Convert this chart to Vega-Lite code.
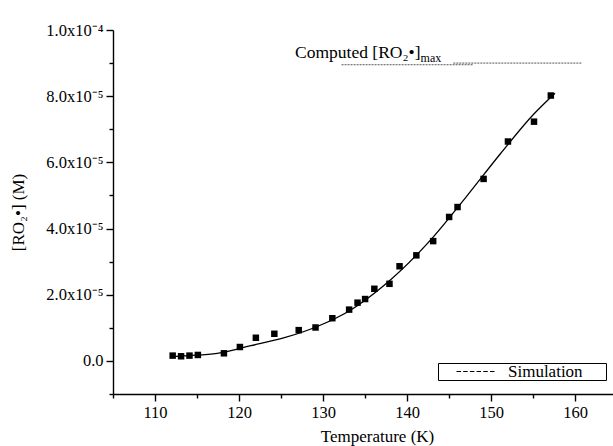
{
  "$schema": "https://vega.github.io/schema/vega-lite/v6.json",
  "width": 500,
  "height": 364,
  "autosize": {"type": "none"},
  "padding": {"left": 113, "top": 30, "right": 0, "bottom": 52},
  "background": "white",
  "config": {
    "view": {"stroke": null},
    "font": "Liberation Serif",
    "axis": {
      "grid": false,
      "domainColor": "black",
      "domainWidth": 1.4,
      "tickColor": "black",
      "tickWidth": 1.4,
      "labelColor": "black",
      "labelFont": "Liberation Serif",
      "labelFontSize": 16.5,
      "labelOverlap": false,
      "titleFont": "Liberation Serif",
      "titleFontSize": 17,
      "titleFontWeight": "normal",
      "titleColor": "black"
    },
    "legend": {
      "labelFont": "Liberation Serif",
      "labelFontSize": 17,
      "labelColor": "black"
    }
  },
  "datasets": {
    "points": [
      {"T": 112.1, "c": 1.6e-6},
      {"T": 113.1, "c": 1.4e-6},
      {"T": 114.1, "c": 1.6e-6},
      {"T": 115.1, "c": 1.8e-6},
      {"T": 118.2, "c": 2.3e-6},
      {"T": 120.1, "c": 4.2e-6},
      {"T": 122.0, "c": 7.0e-6},
      {"T": 124.2, "c": 8.2e-6},
      {"T": 127.1, "c": 9.3e-6},
      {"T": 129.1, "c": 1.01e-5},
      {"T": 131.1, "c": 1.29e-5},
      {"T": 133.1, "c": 1.55e-5},
      {"T": 134.1, "c": 1.76e-5},
      {"T": 135.0, "c": 1.87e-5},
      {"T": 136.1, "c": 2.18e-5},
      {"T": 137.9, "c": 2.33e-5},
      {"T": 139.1, "c": 2.86e-5},
      {"T": 141.1, "c": 3.19e-5},
      {"T": 143.1, "c": 3.62e-5},
      {"T": 145.0, "c": 4.35e-5},
      {"T": 146.0, "c": 4.65e-5},
      {"T": 149.1, "c": 5.50e-5},
      {"T": 152.0, "c": 6.63e-5},
      {"T": 155.1, "c": 7.23e-5},
      {"T": 157.1, "c": 8.02e-5}
    ],
    "curve": [
      {"T": 112.0, "c": 1.3e-6},
      {"T": 114.0, "c": 1.6e-6},
      {"T": 117.4, "c": 2.3e-6},
      {"T": 121.4, "c": 4.6e-6},
      {"T": 125.4, "c": 7.0e-6},
      {"T": 129.3, "c": 1.04e-5},
      {"T": 133.3, "c": 1.54e-5},
      {"T": 137.2, "c": 2.27e-5},
      {"T": 141.2, "c": 3.22e-5},
      {"T": 143.2, "c": 3.77e-5},
      {"T": 147.1, "c": 4.98e-5},
      {"T": 151.1, "c": 6.26e-5},
      {"T": 155.0, "c": 7.44e-5},
      {"T": 157.6, "c": 8.09e-5}
    ],
    "computed": [
      {"T1": 132.2, "T2": 147.9, "c": 8.95e-5},
      {"T1": 145.5, "T2": 160.8, "c": 9.0e-5}
    ]
  },
  "layer": [
    {
      "data": {"name": "computed"},
      "mark": {"type": "rule", "color": "#555555", "strokeWidth": 1, "strokeDash": [2, 1]},
      "encoding": {
        "x": {"field": "T1", "type": "quantitative"},
        "x2": {"field": "T2"},
        "y": {"field": "c", "type": "quantitative"}
      }
    },
    {
      "data": {"name": "curve"},
      "mark": {"type": "line", "interpolate": "monotone", "strokeWidth": 1.3},
      "encoding": {
        "x": {
          "field": "T", "type": "quantitative",
          "scale": {"domain": [105, 164.5], "nice": false, "zero": false},
          "axis": {
            "title": "Temperature (K)",
            "tickCount": 30,
            "values": [105, 110, 115, 120, 125, 130, 135, 140, 145, 150, 155, 160],
            "labelExpr": "datum.value % 10 == 0 ? datum.label : ''",
            "tickSize": {"condition": {"test": "datum.value % 10 != 0", "value": 4}, "value": 7},
            "labelPadding": 3,
            "titleX": 264,
            "titleY": 42,
            "titleBaseline": "middle"
          }
        },
        "y": {
          "field": "c", "type": "quantitative",
          "scale": {"domain": [-1e-5, 1e-4], "nice": false, "zero": false},
          "axis": {
            "title": "[RO₂•] (M)",
            "tickCount": 30,
            "values": [-0.00001, 0, 0.00001, 0.00002, 0.00003, 0.00004, 0.00005, 0.00006, 0.00007, 0.00008, 0.00009, 0.0001],
            "labelExpr": "abs(datum.value) < 0.0000001 ? '0.0' : abs(datum.value - 0.0001) < 0.0000001 ? '1.0x10⁻⁴' : abs(datum.value - 0.00002) < 0.0000001 ? '2.0x10⁻⁵' : abs(datum.value - 0.00004) < 0.0000001 ? '4.0x10⁻⁵' : abs(datum.value - 0.00006) < 0.0000001 ? '6.0x10⁻⁵' : abs(datum.value - 0.00008) < 0.0000001 ? '8.0x10⁻⁵' : ''",
            "tickSize": {"condition": {"test": "round(datum.value * 100000) % 2 != 0", "value": 4}, "value": 7},
            "labelPadding": 3,
            "titleX": -95,
            "titleBaseline": "middle"
          }
        },
        "color": {
          "datum": "Simulation",
          "type": "nominal",
          "scale": {"range": ["black"]},
          "legend": {
            "title": null,
            "orient": "none",
            "legendX": 325,
            "legendY": 333,
            "padding": 0,
            "strokeColor": "black",
            "fillColor": "white",
            "symbolType": "M2,0H10M31.5,0",
            "symbolSize": 100,
            "symbolStrokeWidth": 1,
            "symbolStrokeColor": "black",
            "symbolDash": [4.5, 2.2],
            "labelOffset": 53
          }
        }
      }
    },
    {
      "data": {"name": "points"},
      "mark": {"type": "square", "filled": true, "color": "black", "size": 42, "opacity": 1},
      "encoding": {
        "x": {"field": "T", "type": "quantitative"},
        "y": {"field": "c", "type": "quantitative"}
      }
    },
    {
      "data": {"values": [{"T": 141.6, "c": 9.157e-5, "label": "Computed [RO₂•]"}]},
      "mark": {"type": "text", "align": "right", "baseline": "alphabetic", "fontSize": 17.5, "font": "Liberation Serif", "color": "black"},
      "encoding": {
        "x": {"field": "T", "type": "quantitative"},
        "y": {"field": "c", "type": "quantitative"},
        "text": {"field": "label"}
      }
    },
    {
      "data": {"values": [{"T": 141.6, "c": 9.157e-5, "label": "max"}]},
      "mark": {"type": "text", "align": "left", "baseline": "alphabetic", "fontSize": 12, "dy": 4, "font": "Liberation Serif", "color": "black"},
      "encoding": {
        "x": {"field": "T", "type": "quantitative"},
        "y": {"field": "c", "type": "quantitative"},
        "text": {"field": "label"}
      }
    }
  ]
}
